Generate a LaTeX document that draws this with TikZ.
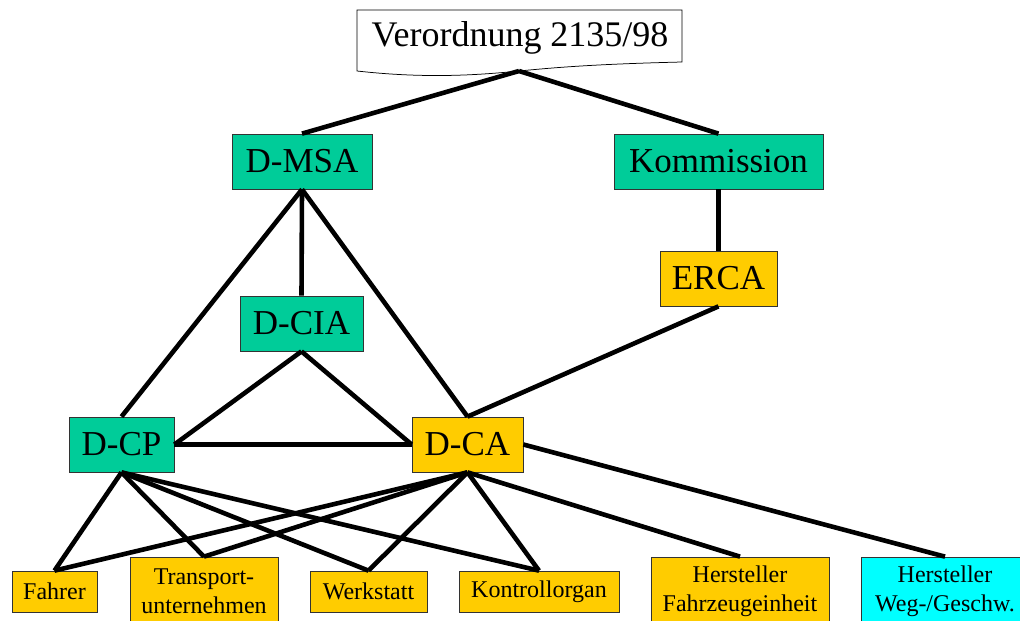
\documentclass[tikz,border=0pt]{standalone}
\usepackage{fontspec}
\setmainfont{Liberation Serif}
\usepackage{tikz}

\definecolor{msagreen}{RGB}{0,204,153}
\definecolor{caorange}{RGB}{255,204,0}
\definecolor{sencyan}{RGB}{0,255,255}

\begin{document}
\begin{tikzpicture}[
  x=1pt, y=-1pt,
  box/.style = {rectangle, draw=black!80, line width=0.75pt,
                inner sep=0pt, minimum height=55pt,
                font=\fontsize{35}{40}\selectfont},
  leaf/.style = {rectangle, draw=black!80, line width=0.75pt,
                 inner sep=0pt, fill=caorange, align=center,
                 font=\fontsize{24}{29}\selectfont},
  link/.style = {line width=4.6pt}
]
  \useasboundingbox (0,0) rectangle (1020,621);

  % Verordnung (document shape)
  \draw[line width=0.75pt, fill=white] (357,10) -- (682,10) -- (682,62)
    .. controls (600,64) and (560,67) .. (519,71)
    .. controls (470,76) and (420,78) .. (357,71) -- cycle;
  \node[font=\fontsize{36}{40}\selectfont] (vo) at (520,38) {Verordnung 2135/98};
  \coordinate (vo-s) at (519,71);

  \node[box, fill=msagreen, minimum width=140pt] (msa)  at (302,161.5)   {D-MSA};
  \node[box, fill=msagreen, minimum width=209pt] (kom)  at (718.5,161.5) {Kommission};
  \node[box, fill=msagreen, minimum width=123pt] (cia)  at (301.5,323.5) {D-CIA};
  \node[box, fill=caorange, minimum width=117pt] (erca) at (718.5,278.5) {ERCA};
  \node[box, fill=msagreen, minimum width=105pt] (dcp)  at (121.5,444.5) {D-CP};
  \node[box, fill=caorange, minimum width=111pt] (dca)  at (467.5,444.5) {D-CA};

  \node[leaf, minimum width=85pt,  minimum height=41pt] (fahrer) at (54.5,591.5)  {Fahrer};
  \node[leaf, minimum width=148pt, minimum height=69pt] (transp) at (204,591.5)   {Transport-\\unternehmen};
  \node[leaf, minimum width=117pt, minimum height=41pt] (werk)   at (368.5,591.5) {Werkstatt};
  \node[leaf, minimum width=160pt, minimum height=41pt] (kontr)  at (539,591.5)   {Kontrollorgan};
  \node[leaf, minimum width=178pt, minimum height=69pt] (hfz)    at (740,591.5)   {Hersteller\\Fahrzeugeinheit};
  \node[leaf, fill=sencyan, minimum width=168pt, minimum height=69pt] (hweg) at (945,591.5) {Hersteller\\Weg-/Geschw.};

  \draw[link] (vo-s) -- (msa.north);
  \draw[link] (vo-s) -- (kom.north);
  \draw[link] (msa.south) -- (cia.north);
  \draw[link] (msa.south) -- (dcp.north);
  \draw[link] (msa.south) -- (dca.north);
  \draw[link] (kom.south) -- (erca.north);
  \draw[link] (erca.south) -- (dca.north);
  \draw[link] (cia.south) -- (dcp.east);
  \draw[link] (cia.south) -- (dca.west);
  \draw[link] (dcp.east)  -- (dca.west);

  \foreach \t in {fahrer, transp, werk, kontr} {
    \draw[link] (dcp.south) -- (\t.north);
    \draw[link] (dca.south) -- (\t.north);
  }
  \draw[link] (dca.south) -- (hfz.north);
  \draw[link] (dca.east)  -- (hweg.north);
\end{tikzpicture}
\end{document}
